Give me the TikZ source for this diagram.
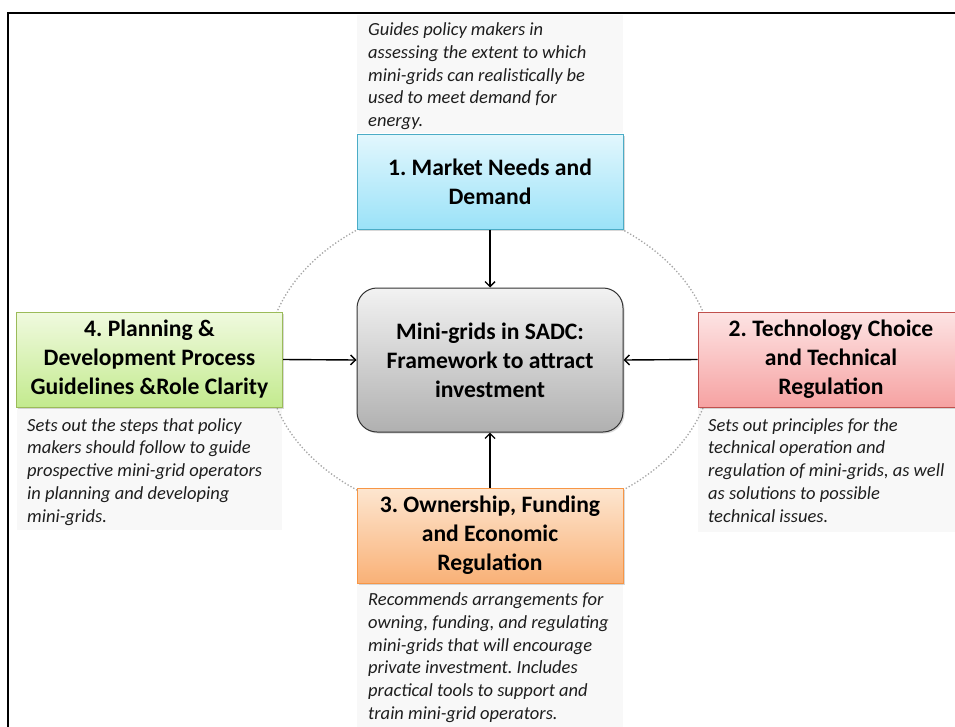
\documentclass[tikz,border=0pt]{standalone}
\usepackage{fontspec}
\setmainfont{Carlito}
\usetikzlibrary{shadows,arrows.meta}
\definecolor{bluetop}{HTML}{E2F7FD}
\definecolor{bluebot}{HTML}{9BE2F8}
\definecolor{blueline}{HTML}{4BACC6}
\definecolor{greentop}{HTML}{F0FADF}
\definecolor{greenbot}{HTML}{C3EA8E}
\definecolor{greenline}{HTML}{9BBB59}
\definecolor{redtop}{HTML}{FDE4E4}
\definecolor{redbot}{HTML}{F6A2A2}
\definecolor{redline}{HTML}{C0504D}
\definecolor{orangetop}{HTML}{FDE6D0}
\definecolor{orangebot}{HTML}{F9B177}
\definecolor{orangeline}{HTML}{F79646}
\definecolor{graytop}{HTML}{F2F2F2}
\definecolor{graybot}{HTML}{B0B0B0}
\definecolor{descbg}{HTML}{F8F8F8}
\definecolor{desctext}{HTML}{1E1E1E}
\tikzset{
  titlebox/.style={draw, line width=1pt, minimum width=266pt, minimum height=95pt,
    inner sep=0pt, align=center, text=black,
    font=\fontsize{23.6}{29}\selectfont\bfseries,
    drop shadow={shadow xshift=1.5pt, shadow yshift=-1.5pt, opacity=0.3, fill=gray}},
  descbg/.style={fill=descbg, draw=none},
  desctxt/.style={anchor=north west, inner sep=0pt, align=left, text=desctext,
    font=\fontsize{18.5}{22.75}\selectfont\itshape},
  conn/.style={line width=1.4pt, -{Straight Barb[length=5pt,width=10pt,line width=1.4pt]}},
}
\begin{document}
\frenchspacing
\begin{tikzpicture}[x=1pt,y=-1pt]
\useasboundingbox (0,0) rectangle (955,726);
\clip (0,0) rectangle (955,726);
\fill[white] (0,0) rectangle (955,726);
% outer frame
\draw[line width=2pt] (8,13) rectangle (980,760);
% description backgrounds
\fill[descbg] (357,15) rectangle (623,133);
\fill[descbg] (17,407) rectangle (282,530);
\fill[descbg] (698,407) rectangle (970,532);
\fill[descbg] (357,582) rectangle (623,740);
% dotted ellipse
\draw[gray!70, line width=1.3pt, dotted] (490,360) ellipse [x radius=223, y radius=162];
% center
\node[draw=black!80, line width=1pt, rounded corners=20pt, minimum width=266pt, minimum height=144pt,
  top color=graytop, bottom color=graybot, align=center, inner sep=0pt,
  font=\fontsize{23.6}{29}\selectfont\bfseries,
  drop shadow={shadow xshift=1.5pt, shadow yshift=-1.5pt, opacity=0.3, fill=gray}]
  (C) at (490,360) {Mini-grids in SADC:\\Framework to attract\\investment};
% title boxes
\node[titlebox, draw=blueline, top color=bluetop, bottom color=bluebot] (B1) at (490,181.5)
  {1. Market Needs and\\Demand};
\node[titlebox, draw=greenline, top color=greentop, bottom color=greenbot] (B4) at (149.5,359.5)
  {4. Planning \&\\Development Process\\Guidelines \&Role Clarity};
\node[titlebox, draw=redline, top color=redtop, bottom color=redbot] (B2) at (831,359.5)
  {2. Technology Choice\\and Technical\\Regulation};
\node[titlebox, draw=orangeline, top color=orangetop, bottom color=orangebot] (B3) at (490,535.5)
  {3. Ownership, Funding\\and Economic\\Regulation};
% connectors
\draw[conn] (B1.south) -- (C.north);
\draw[conn] (B4.east) -- (C.west);
\draw[conn] (B2.west) -- (C.east);
\draw[conn] (B3.north) -- (C.south);
% descriptions
\node[desctxt] (D1) at (368,22.5) {Guides policy makers in\\assessing the extent to which\\mini-grids can realistically be\\used to meet demand for\\energy.};
\node[desctxt] (D4) at (27,418) {Sets out the steps that policy\\makers should follow to guide\\prospective mini-grid operators\\in planning and developing\\mini-grids.};
\node[desctxt] (D2) at (708,418) {Sets out principles for the\\technical operation and\\regulation of mini-grids, as well\\as solutions to possible\\technical issues.};
\node[desctxt] (D3) at (368,592.5) {Recommends arrangements for\\owning, funding, and regulating\\mini-grids that will encourage\\private investment. Includes\\practical tools to support and\\train mini-grid operators.};
\end{tikzpicture}
\end{document}
